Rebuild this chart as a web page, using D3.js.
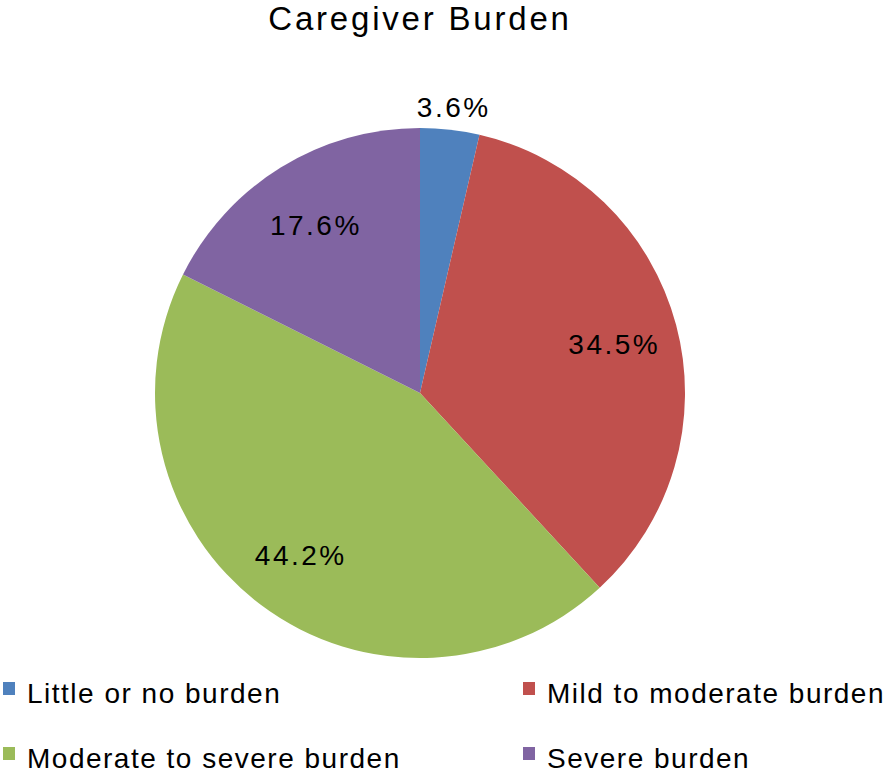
<!DOCTYPE html>
<html><head><meta charset="utf-8">
<script src="https://cdn.jsdelivr.net/npm/d3@7"></script>
<style>body{margin:0;background:#fff}svg{display:block}text{font-family:"Liberation Sans",Arial,Helvetica,sans-serif}</style>
</head><body><svg id="c" width="894" height="776"></svg>
<script>
const categories = ["Little or no burden","Mild to moderate burden","Moderate to severe burden","Severe burden"];
const values = [3.6, 34.5, 44.2, 17.6];
const colors = ["#4F81BD","#C0504D","#9BBB59","#8064A2"];
const title = "Caregiver Burden";

const svg = d3.select("#c");
const cx = 420, cy = 393, R = 265;
const data = categories.map((c,i)=>({cat:c, v:values[i], col:colors[i]}));
const pie = d3.pie().sort(null).value(d=>d.v);
const arcs = pie(data);
const arc = d3.arc().innerRadius(0).outerRadius(R);
const g = svg.append("g").attr("transform",`translate(${cx},${cy})`);
g.selectAll("path").data(arcs).join("path").attr("d",arc).attr("fill",d=>d.data.col);

const inArc = d3.arc().innerRadius(200).outerRadius(200);
const outArc = d3.arc().innerRadius(290).outerRadius(290);
g.selectAll("text.lbl").data(arcs).join("text").attr("class","lbl")
  .attr("transform",d=>{const p=(d.data.v<5?outArc:inArc).centroid(d);return `translate(${p[0]+1},${p[1]+3})`;})
  .attr("text-anchor","middle").attr("dominant-baseline","central")
  .attr("font-size",28).attr("letter-spacing",2.5).attr("fill","#000")
  .text(d=>d3.format(".1f")(d.data.v)+"%");

svg.append("text").attr("x",cx).attr("y",30).attr("text-anchor","middle")
  .attr("font-size",33).attr("letter-spacing",2.8).attr("fill","#000").text(title);

const legX = [3, 523], legY = [689, 754];
const lg = svg.selectAll("g.leg").data(data).join("g").attr("class","leg")
  .attr("transform",(d,i)=>`translate(${legX[i%2]},${legY[Math.floor(i/2)]})`);
lg.append("rect").attr("x",0).attr("y",-7).attr("width",12).attr("height",13).attr("fill",d=>d.col);
lg.append("text").attr("x",24).attr("y",14).attr("font-size",28).attr("letter-spacing",1.5)
  .attr("fill","#000").text(d=>d.cat);
</script></body></html>
